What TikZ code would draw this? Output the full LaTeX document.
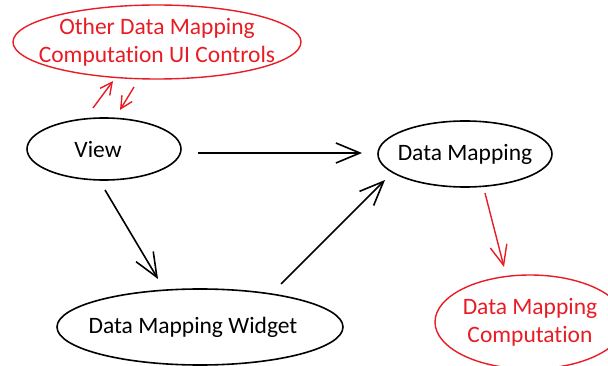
\documentclass[tikz,border=0pt]{standalone}
\usepackage{fontspec}
\setmainfont{Carlito}[Ligatures=NoCommon]
\usetikzlibrary{arrows.meta}
\definecolor{myred}{RGB}{232,28,36}
\tikzset{
  blacktxt/.style={inner sep=0pt, font=\fontsize{23.5}{28}\selectfont},
  redtxt/.style={inner sep=0pt, text=myred, align=center, font=\fontsize{23.5}{28}\selectfont},
  blackline/.style={draw=black, line width=1.6pt},
  redline/.style={draw=myred, line width=1.4pt},
  blackarr/.style={blackline, -{Straight Barb[length=24pt,width=20pt,line width=1.6pt]}},
  redarr/.style={redline, -{Straight Barb[length=20pt,width=17pt,line width=1.4pt]}},
  smallredarr/.style={redline, -{Straight Barb[length=12pt,width=12pt,line width=1.4pt]}},
}
\begin{document}
\begin{tikzpicture}[x=1pt,y=-1pt]
\useasboundingbox (0,0) rectangle (608,366);
\clip (0,0) rectangle (608,366);
\node[redtxt] (other) at (157,42) {Other Data Mapping\\Computation UI Controls};
\node[blacktxt] (view) at (98,149) {View};
\node[blacktxt] (dm) at (465,154) {Data Mapping};
\node[blacktxt] (dmw) at (193,327) {Data Mapping Widget};
\node[redtxt] (dmc) at (530,322) {Data Mapping\\Computation};
\draw[redline] (157,42) ellipse [x radius=144, y radius=37];
\draw[blackline] (104,149) ellipse [x radius=77, y radius=31];
\draw[blackline] (465,154) ellipse [x radius=87, y radius=33];
\draw[blackline] (200,327) ellipse [x radius=143, y radius=38];
\draw[redline] (530,322) ellipse [x radius=95, y radius=47];
\coordinate (a1) at (198,153); \coordinate (a2) at (362,153);
\coordinate (b1) at (105,190); \coordinate (b2) at (158,279);
\coordinate (c1) at (281,284); \coordinate (c2) at (385,180);
\coordinate (d1) at (485,193); \coordinate (d2) at (504,267);
\coordinate (e1) at (93,108); \coordinate (e2) at (113,81);
\coordinate (f1) at (134,87); \coordinate (f2) at (120,110);
\draw[blackarr] (a1) -- (a2);
\draw[blackarr] (b1) -- (b2);
\draw[blackarr] (c1) -- (c2);
\draw[redarr] (d1) -- (d2);
\draw[smallredarr] (e1) -- (e2);
\draw[smallredarr] (f1) -- (f2);
\end{tikzpicture}
\end{document}
